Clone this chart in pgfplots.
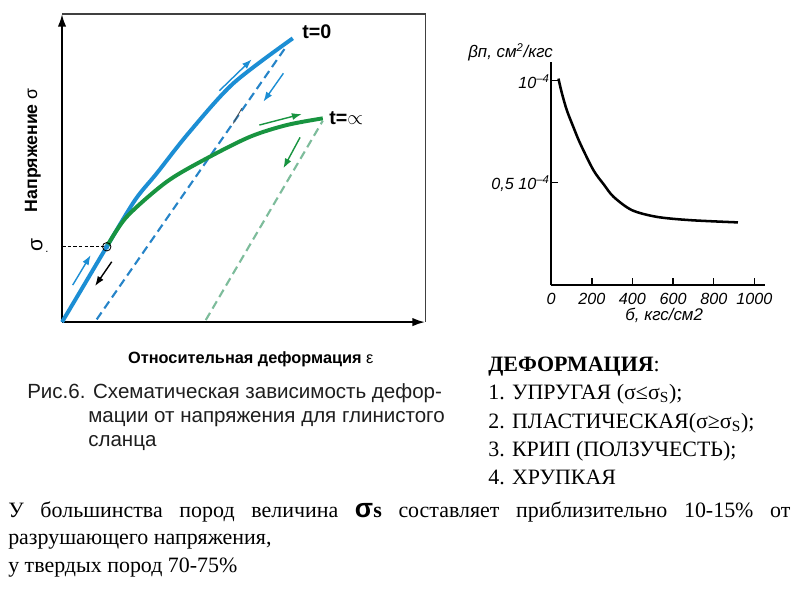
\documentclass[border=0pt]{standalone}
\usepackage{fontspec}
\setmainfont{Liberation Serif}
\setsansfont{Liberation Sans}
\usepackage{pgfplots}
\pgfplotsset{compat=1.18}
\usetikzlibrary{arrows.meta}

\definecolor{cblue}{RGB}{28,142,212}
\definecolor{cbluedash}{RGB}{38,132,200}
\definecolor{cgreen}{RGB}{24,148,64}
\definecolor{cgreendash}{RGB}{125,188,155}
\definecolor{capgray}{RGB}{30,30,30}
\newcommand{\fs}[1]{\fontsize{#1}{#1}\selectfont}

\begin{document}
\begin{tikzpicture}[x=0.025cm,y=0.025cm]
\fill[white] (0,0) rectangle (800,-600);
\path[use as bounding box] (0,0) rectangle (800,-600);

% schematic stress-strain diagram
\begin{axis}[
    at={(1.55cm,-8.05cm)}, anchor=south west,
    scale only axis, width=9.075cm, height=7.7cm,
    xmin=0, xmax=363, ymin=0, ymax=308,
    axis lines=left,
    axis line style={line width=1.4pt, black, -{Latex[length=9pt,width=6pt]}},
    xtick=\empty, ytick=\empty,
    clip=false,
    xlabel={\textbf{Относительная деформация} ε},
    xlabel style={at={(axis description cs:0.52,-0.12)}, anchor=center, font=\sffamily\fs{11.6}},
    ylabel={\textbf{Напряжение} σ},
    ylabel style={at={(axis description cs:-0.08,0.558)}, anchor=center, font=\sffamily\fs{12.6}},
]
\draw[black!75, line width=0.8pt] (rel axis cs:0,1) -- (rel axis cs:1,1) -- (rel axis cs:1,0);

% unloading lines
\addplot[cbluedash, line width=1.5pt, dash pattern=on 6pt off 3.5pt] coordinates {(34.7,2.7) (224,275.3)};
\addplot[cgreendash, line width=1.5pt, dash pattern=on 6pt off 3.5pt] coordinates {(143.7,2) (260.7,201.3)};
\addplot[black!70, line width=0.6pt] coordinates {(171.3,198.7) (179.7,213.7)};

% t = 0
\addplot[cblue, line width=2.8pt, smooth] coordinates {
    (0,0) (22,37) (44.7,75.3) (73,122) (94.7,148.7) (126.3,188.7) (171.3,238.7) (230.7,283.7)
};
% t = infinity
\addplot[cgreen, line width=2.8pt, smooth] coordinates {
    (44.7,75.3) (64.7,105.3) (104.7,140.3) (144.7,163.7) (188,185.3) (224.7,197) (260.7,203.7)
};

% sigma_s level
\addplot[black, line width=0.7pt, dash pattern=on 2.5pt off 1.5pt] coordinates {(0,75.3) (44.7,75.3)};
\addplot[only marks, mark=o, mark size=3pt, mark options={black, line width=0.6pt}] coordinates {(44.7,75.3)};
\addplot[only marks, mark=*, mark size=1.6pt, mark options={cblue}] coordinates {(44.7,75.3)};

% direction arrows
\addplot[cblue, line width=1pt, -{Latex[length=7pt,width=5pt]}] coordinates {(10.7,37) (28.7,67)};
\addplot[black, line width=1pt, -{Latex[length=7pt,width=5pt]}] coordinates {(49.7,60.3) (33,36)};
\addplot[cblue, line width=1pt, -{Latex[length=7pt,width=5pt]}] coordinates {(157.3,231.3) (189.7,262.7)};
\addplot[cblue, line width=1pt, -{Latex[length=7pt,width=5pt]}] coordinates {(221.3,248.7) (201.3,220.3)};
\addplot[cgreen, line width=1pt, -{Latex[length=7pt,width=5pt]}] coordinates {(197.3,197) (239.7,208)};
\addplot[cgreen, line width=1pt, -{Latex[length=7pt,width=5pt]}] coordinates {(238,184.7) (221.3,153.7)};
\end{axis}

\node[anchor=west, inner sep=0, font=\sffamily\bfseries\fs{14}] at (302,-32) {t=0};
\node[anchor=west, inner sep=0, font=\sffamily\bfseries\fs{14}] at (329,-118) {t=$\propto$};
\node[rotate=90, inner sep=0, font=\sffamily\fs{15}] at (37,-245) {σ};
\node[inner sep=0, font=\sffamily\fs{8}] at (47,-252) {.};

% caption
\node[anchor=base west, inner sep=0, text=capgray, font=\sffamily\fs{14.6}] at (27,-398) {Рис.6. Схематическая зависимость дефор-};
\node[anchor=base west, inner sep=0, text=capgray, font=\sffamily\fs{14.6}] at (88,-422) {мации от напряжения для глинистого};
\node[anchor=base west, inner sep=0, text=capgray, font=\sffamily\fs{14.6}] at (88,-446) {сланца};

% compressibility vs stress
\begin{axis}[
    at={(13.775cm,-7.125cm)}, anchor=south west,
    scale only axis, width=5.35cm, height=5.58cm,
    xmin=0, xmax=1053, ymin=0, ymax=1.09,
    axis lines=left,
    axis line style={line width=1.4pt, black, -},
    tick align=inside, major tick length=5pt,
    tick style={line width=1pt, black},
    xtick={0,200,400,600,800,1000},
    xticklabels={0,200,400,600,800,1000},
    ytick={0.5,1},
    yticklabels={{0,5 10\textsuperscript{--4}},{10\textsuperscript{--4}}},
    ticklabel style={font=\sffamily\itshape\fs{11.5}},
    xticklabel style={yshift=-2pt},
    yticklabel style={xshift=2.5pt, yshift=-1pt},
    clip=false,
    xlabel={б, кгс/см2},
    xlabel style={at={(axis description cs:0.528,-0.134)}, anchor=center, font=\sffamily\itshape\fs{12}},
    ylabel={βп, см\textsuperscript{2}/кгс},
    ylabel style={rotate=-90, at={(axis description cs:-0.41,1.043)}, anchor=west, font=\sffamily\itshape\fs{12}},
]
\addplot[black, line width=1.8pt, smooth] coordinates {
    (36,1.008) (52,0.94) (77,0.854) (110,0.77) (143,0.691) (208,0.561) (260,0.49) (307,0.431)
    (397,0.366) (520,0.333) (684,0.317) (919,0.306)
};
\end{axis}

% list of deformation types
\begin{scope}[every node/.style={anchor=base west, inner sep=0, font=\fs{15.6}}]
\node at (488,-371) {\textbf{ДЕФОРМАЦИЯ}:};
\node at (488,-399) {1. УПРУГАЯ (σ≤σ\textsubscript{S});};
\node at (488,-428) {2. ПЛАСТИЧЕСКАЯ(σ≥σ\textsubscript{S});};
\node at (488,-456) {3. КРИП (ПОЛЗУЧЕСТЬ);};
\node at (488,-484) {4. ХРУПКАЯ};
\end{scope}

% bottom note
\begin{scope}[every node/.style={anchor=base west, inner sep=0, font=\fs{15.6}}]
\node at (8,-517) {\makebox[19.55cm][s]{У большинства пород величина {\sffamily\bfseries\fs{19}σ}\textbf{s} составляет приблизительно 10-15\% от}};
\node at (8,-544) {разрушающего напряжения,};
\node at (8,-572) {у твердых пород 70-75\%};
\end{scope}
\end{tikzpicture}
\end{document}
